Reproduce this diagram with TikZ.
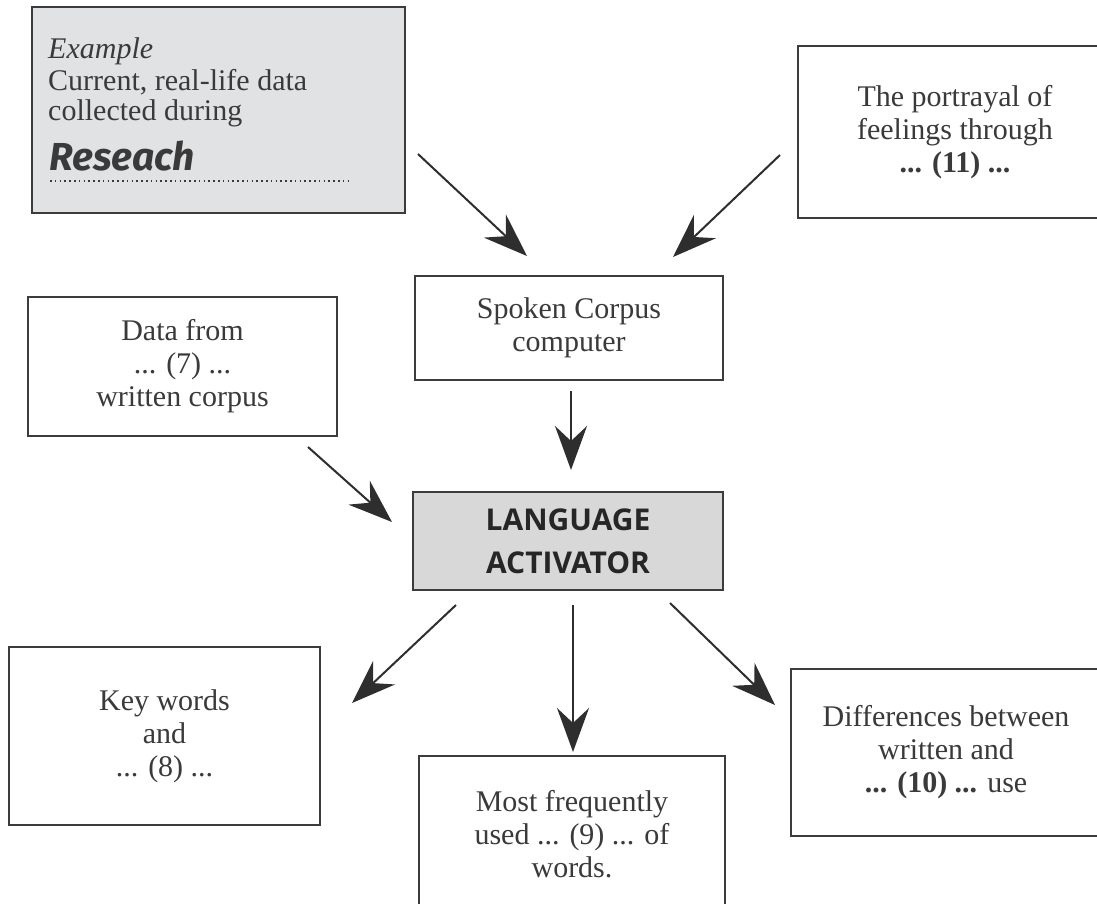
\documentclass[tikz,border=0pt]{standalone}
\usepackage{fontspec}
\setmainfont{Liberation Serif}
\newfontfamily\lafont{Open Sans}
\newfontfamily\rsfont{Fira Sans}
\usetikzlibrary{arrows.meta}
\definecolor{ink}{HTML}{3A3A3A}
\definecolor{boxline}{HTML}{3C3C3C}
\definecolor{exfill}{HTML}{E1E2E4}
\definecolor{lafill}{HTML}{D8D8D8}
\definecolor{arrowc}{HTML}{2E2E2E}
\tikzset{
  boxnode/.style={draw=boxline, line width=2.4pt, fill=white, inner sep=0pt, align=center,
    text=ink, font=\fontsize{30}{33}\selectfont},
  txt/.style={inner sep=0pt, text=ink, font=\fontsize{30}{33}\selectfont},
  conn/.style={draw=arrowc, line width=2pt, -{Stealth[length=44pt,width=32pt,inset=15pt]}},
}
\newcommand{\gap}[1]{... (#1) ...}
\newcommand{\bgap}[1]{\textbf{... (#1) ...}}
\begin{document}
\begin{tikzpicture}[x=1pt,y=-1pt]
\useasboundingbox (0,0) rectangle (1097,903);
\clip (0,0) rectangle (1097,903);
\fill[white] (0,0) rectangle (1097,903);

% Example box
\node[boxnode, fill=exfill, minimum width=373pt, minimum height=206pt] (ex) at (218.5,110) {};
\node[txt, anchor=base west] (ex1) at (48,58) {\itshape Example};
\node[txt, anchor=base west] (ex2) at (48,90) {Current, real-life data};
\node[txt, anchor=base west] (ex3) at (48,120) {collected during};
\node[inner sep=0pt, anchor=base west, text=ink, font=\rsfont\bfseries\itshape\fontsize{39}{40}\selectfont] (ex4) at (49,170) {Reseach};
\coordinate (dotL) at (50,181);
\coordinate (dotR) at (352,181);
\draw[ink, line width=1.6pt, dash pattern=on 1.6pt off 3.2pt] (dotL) -- (dotR);

% Portrayal box
\node[boxnode, minimum width=314pt, minimum height=172pt] (por) at (955,132) {The portrayal of\\feelings through\\\bgap{11}};

% Spoken corpus
\node[boxnode, minimum width=308pt, minimum height=104pt] (spk) at (569,328) {Spoken Corpus\\computer};

% Data from
\node[boxnode, minimum width=309pt, minimum height=139pt] (dat) at (182.5,366.5) {Data from\\\gap{7}\\written corpus};

% Language activator
\node[boxnode, fill=lafill, minimum width=310pt, minimum height=98pt,
  font=\lafont\bfseries\fontsize{30}{43}\selectfont, text=black!85] (lan) at (568,541) {LANGUAGE\\ACTIVATOR};

% Key words
\node[boxnode, minimum width=311pt, minimum height=178pt] (key) at (164.5,736) {Key words\\and\\\gap{8}};

% Most frequently
\node[boxnode, minimum width=306pt, minimum height=156pt] (mst) at (572,834) {Most frequently\\used ... (9) ... of\\words.};

% Differences
\node[boxnode, minimum width=310pt, minimum height=167pt] (dif) at (946,752.5) {Differences between\\written and\\\textbf{... (10) ...} use};

% arrow end points
\coordinate (a1s) at (418,154);  \coordinate (a1e) at (527,256);
\coordinate (a2s) at (780,155);  \coordinate (a2e) at (673,257);
\coordinate (a3s) at (571,391);  \coordinate (a3e) at (571,470);
\coordinate (a4s) at (308,447);  \coordinate (a4e) at (392,522);
\coordinate (a5s) at (456,605);  \coordinate (a5e) at (352,703);
\coordinate (a6s) at (573,605);  \coordinate (a6e) at (573,752);
\coordinate (a7s) at (670,603);  \coordinate (a7e) at (775,705);

\draw[conn] (a1s) -- (a1e);
\draw[conn] (a2s) -- (a2e);
\draw[conn] (a3s) -- (a3e);
\draw[conn] (a4s) -- (a4e);
\draw[conn] (a5s) -- (a5e);
\draw[conn] (a6s) -- (a6e);
\draw[conn] (a7s) -- (a7e);
\end{tikzpicture}
\end{document}
